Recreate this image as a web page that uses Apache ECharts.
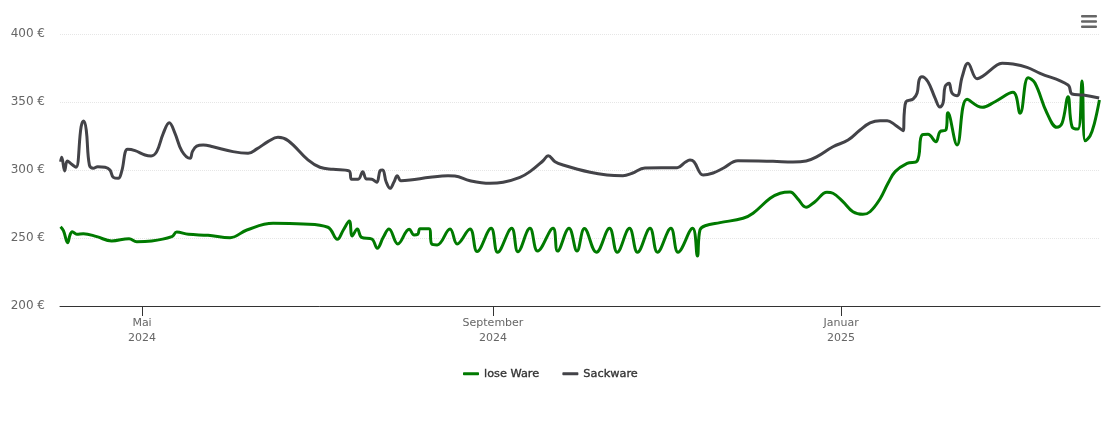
<!DOCTYPE html>
<html><head><meta charset="utf-8">
<style>html,body{margin:0;padding:0;background:#fff}#c{width:1110px;height:423px}</style>
<script src="https://cdn.jsdelivr.net/npm/echarts@6/dist/echarts.min.js"></script>
</head><body><div id="c"></div>
<script>
const seriesNames = ['lose Ware','Sackware'];
const yTicks = [200,250,300,350,400];
const startDate = Date.UTC(2024,3,2,6);
const endDay = 364.5;
const tickDates = [Date.UTC(2024,4,1),Date.UTC(2024,8,1),Date.UTC(2025,0,1)];
const tickLabels = ['Mai\n2024','September\n2024','Januar\n2025'];

const greenDays = [0.2,1.2,2.7,3.5,4.3,5.9,8.2,12.9,18.1,24.2,26.9,32.1,39.2,40.9,45,51.9,59.6,65.5,74.7,85.2,93.9,97.2,99.3,101.4,102.4,104.2,105.7,109.3,111.2,113.3,115.3,118.4,122.4,124.1,125.4,126.2,129.3,130.3,132.2,136.7,139.2,143.7,146.2,151.1,153.4,158.3,160.5,164.7,167.4,172.8,174.4,178.4,181.2,183.8,188,192.6,195.3,199.6,202.4,206.8,209.4,214.1,216.6,221.7,223.4,224.3,226.1,231.3,239.4,242.9,248.9,252.4,255.9,258.5,261.5,264.6,268.8,270.9,274.4,277.9,281.4,283.9,287.4,290.2,292.7,296.9,300.4,302.1,304.2,307,308.4,310.5,311.2,314.4,317.9,323.2,327.7,334,336.5,339.3,341.7,345.9,349.4,351.2,353.3,354.7,356.8,358.2,359.3,361,362.5,364.3];
const greenValues = [258.3,255.4,246.5,252.2,254.6,252.7,253.2,251,247.8,249.5,247.3,247.8,251,254.4,252.7,252,250.2,255.9,260.8,260.3,257.9,249,255.9,262.5,251.5,256.6,250.5,249.3,242.4,250.5,256.6,245.6,256.4,252.2,252.7,256.8,256.8,245.6,244.9,256.6,245.6,256.6,240,257.1,239.5,257.1,239.9,257.1,240.4,257.1,240.4,257.1,240.4,257,239.5,257.1,239.5,257.1,239.5,257.1,239.5,257.1,239.5,257.1,236.8,255.9,259,261.3,264.5,268.2,279.2,282.9,283.8,279,272.6,276.7,283.6,282.9,276.7,269.3,267.4,269.3,278.7,290.2,298.8,304.9,306.6,325.7,326.2,320.8,328.2,329.4,342.1,318.4,352,346.1,350.2,357.1,341.7,367.9,364,341.9,331.4,334.3,353.9,331.8,330.1,365.4,321.5,325,334,351.5];

const greyDays = [0.2,0.6,1.65,2.56,4.1,5.6,7.4,8.3,9.2,10.3,11.7,13.2,15.8,17.5,18.7,20.4,21.6,23.7,26.3,29.8,31.9,33.9,36.2,38.3,40.3,42.7,45.6,46.4,47.9,50.2,53.6,60.6,65.9,69,73,76.4,80,86.9,91.1,95.7,101.3,102.2,104.5,106.1,107.4,109.3,111,112.2,113.1,114.3,115.7,117.1,118.2,119.5,122.7,129.7,136,138.4,143.7,150.7,155.3,161.2,164.7,169.3,171.1,173.5,176.3,185.8,191.7,197.3,200.5,205,216.3,219.1,220.8,222.2,225.4,228.9,232.4,237.6,249.9,256.9,261.5,265.3,270.9,276.2,280.4,283.9,287.4,289.9,292.7,295.5,295.9,296.5,299,300.4,301.1,302.1,304.2,306.7,308.4,309.5,310.2,311.6,312.6,314.4,316.2,318.2,321.4,323.5,328.4,330.2,334,338.9,343.5,353.3,354.7,358.6,364.2];
const greyValues = [306.1,309.3,299.3,306.6,304.2,302,331.8,336,329.4,303.7,301.3,302.4,302,300,294.6,293.9,298.8,315.2,314.2,311,310.3,313.5,327,334.8,327,314,308.6,313.5,317.6,318.4,317.1,313.5,312.3,315.5,321,324,321.5,307.4,302,300.5,299.3,293.2,293.2,298.8,293.4,293.2,291,299.5,300,291.4,286.5,291.4,295.8,292.1,292.6,294.6,295.8,295.6,292.1,290.2,291,294.6,298.8,306.8,310.5,306.1,303.7,298.3,296.3,295.8,297.6,301.5,301.7,305.7,307.4,306.1,296.3,297.8,301.3,306.8,306.4,305.9,306.6,309.8,317.1,322,329.4,334.6,336.3,336.3,333.1,328.9,341.9,350.2,352.2,356.6,366.2,368.6,364.9,352.9,346.3,349.3,361.3,363.8,356.6,354.6,368.6,378.5,367.1,369.1,377.2,378.5,377.9,375.5,371.1,362.5,355.9,355.1,352.9];

const DAY = 86400000;
const toPts = (d,v) => d.map((x,i)=>[startDate+x*DAY, v[i]]);
const font = 'DejaVu Sans';
const chart = echarts.init(document.getElementById('c'),null,{renderer:'canvas'});
chart.setOption({
  animation:false,
  grid:{left:60,right:10,top:34,bottom:117,containLabel:false},
  legend:{
    data:seriesNames,left:458,top:363,itemWidth:16,itemHeight:3,itemGap:23,icon:'roundRect',
    textStyle:{color:'#333',fontSize:11.3,fontFamily:font,fontWeight:'normal',textBorderColor:'#333',textBorderWidth:0.35}
  },
  xAxis:{
    type:'value',min:startDate,max:startDate+endDay*DAY,
    axisLine:{lineStyle:{color:'#333',width:1}},
    axisTick:{show:true,length:10,customValues:tickDates,lineStyle:{color:'#333',width:1}},
    axisLabel:{
      customValues:tickDates,hideOverlap:false,
      color:'#666',fontSize:11,fontFamily:font,lineHeight:15.5,margin:9,
      formatter:(v)=>tickLabels[tickDates.indexOf(+v)]||''
    },
    splitLine:{show:false}
  },
  yAxis:{
    type:'value',min:yTicks[0],max:yTicks[4],interval:50,
    axisLine:{show:false},axisTick:{show:false},
    axisLabel:{color:'#666',fontSize:12,fontFamily:font,margin:15,formatter:'{value} €'},
    splitLine:{lineStyle:{color:'#e6e6e6',type:'dotted',width:1}}
  },
  series:[
    {name:seriesNames[0],type:'line',smooth:0.4,showSymbol:false,symbol:'none',data:toPts(greenDays,greenValues),
      lineStyle:{width:3,color:'#007a00'},itemStyle:{color:'#007a00'}},
    {name:seriesNames[1],type:'line',smooth:0.4,showSymbol:false,symbol:'none',data:toPts(greyDays,greyValues),
      lineStyle:{width:3,color:'#434348'},itemStyle:{color:'#434348'}}
  ],
  graphic:[15,20.3,25.6].map(y=>({type:'rect',shape:{x:1081,y:y,width:16,height:2.5,r:1},style:{fill:'#666'},silent:true}))
});
</script></body></html>
